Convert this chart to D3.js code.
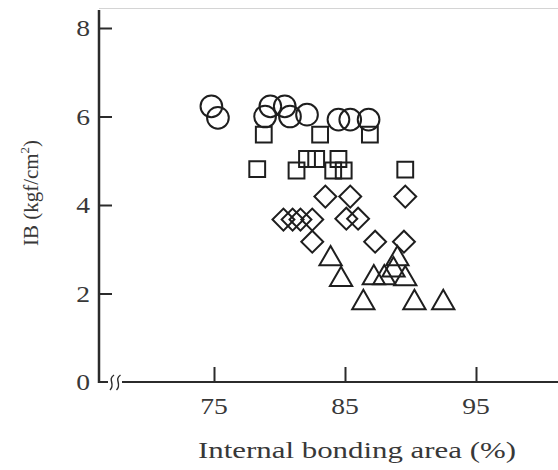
<!DOCTYPE html>
<html>
<head>
<meta charset="utf-8">
<script src="https://cdn.jsdelivr.net/npm/d3@7"></script>
<style>
  body { margin: 0; background: #fff; }
  text { font-family: "Liberation Serif", "DejaVu Serif", serif; fill: #383838; }
</style>
</head>
<body>
<svg width="558" height="470"></svg>
<script>
// IB vs internal bonding area, four groups of boards
var circleX = [74.8, 75.3, 79.3, 80.4, 78.9, 80.8, 82.1, 84.5, 85.4, 86.8];
var circleY = [6.23, 5.97, 6.23, 6.23, 6.0, 6.0, 6.04, 5.93, 5.93, 5.93];

var squareX = [78.8, 83.1, 86.9, 78.3, 81.3, 82.1, 82.8, 84.1, 84.5, 84.9, 89.6];
var squareY = [5.59, 5.59, 5.59, 4.81, 4.78, 5.04, 5.04, 4.78, 5.04, 4.78, 4.80];

var diamondX = [83.5, 85.4, 89.6, 80.3, 81.0, 81.6, 82.5, 82.5, 85.1, 86.0, 87.3, 89.5];
var diamondY = [4.19, 4.19, 4.19, 3.67, 3.67, 3.67, 3.67, 3.17, 3.69, 3.69, 3.17, 3.17];

var triangleX = [83.9, 84.7, 86.4, 87.2, 88.0, 88.7, 89.0, 89.6, 90.3, 92.5];
var triangleY = [2.85, 2.38, 1.86, 2.42, 2.42, 2.60, 2.85, 2.40, 1.86, 1.86];

var xTicks = [75, 85, 95];
var yTicks = [0, 2, 4, 6, 8];

var svg = d3.select("svg");

var x = d3.scaleLinear().domain([75, 95]).range([214, 476]);
var y = d3.scaleLinear().domain([0, 8]).range([382, 28]);

var ink = "#2b2b2b";

// faint frame line at top
svg.append("line")
  .attr("x1", 99).attr("x2", 558).attr("y1", 8.5).attr("y2", 8.5)
  .attr("stroke", "#d4d4d4").attr("stroke-width", 1);

// y axis
var yAxis = svg.append("g").attr("transform", "translate(99,0)")
  .call(d3.axisRight(y).tickValues(yTicks.filter(d => d > 0)).tickSize(13).tickFormat(""));
yAxis.select(".domain").remove();
yAxis.selectAll("line").attr("stroke", ink).attr("stroke-width", 2);
svg.append("line")
  .attr("x1", 99).attr("x2", 99).attr("y1", 10).attr("y2", y(0) + 1)
  .attr("stroke", ink).attr("stroke-width", 2.5);

svg.selectAll(".ylab").data(yTicks).enter().append("text")
  .attr("class", "ylab")
  .attr("transform", d => "translate(90," + (y(d) + 8) + ") scale(1.15,1)")
  .attr("text-anchor", "end")
  .attr("font-size", 24)
  .text(d => d);

// x axis with a break near the origin
svg.append("line")
  .attr("x1", 98).attr("x2", 108).attr("y1", y(0)).attr("y2", y(0))
  .attr("stroke", ink).attr("stroke-width", 2);
svg.append("line")
  .attr("x1", 122).attr("x2", 558).attr("y1", y(0)).attr("y2", y(0))
  .attr("stroke", ink).attr("stroke-width", 2);
[111, 117.5].forEach(function (bx) {
  svg.append("path")
    .attr("d", "M" + (bx + 3) + "," + (y(0) - 7) + " C" + (bx - 4) + "," + (y(0) - 2) + " " + (bx + 5) + "," + (y(0) + 2) + " " + (bx - 1) + "," + (y(0) + 8))
    .attr("fill", "none").attr("stroke", ink).attr("stroke-width", 1.4);
});

var xAxis = svg.append("g").attr("transform", "translate(0," + y(0) + ")")
  .call(d3.axisTop(x).tickValues(xTicks).tickSize(15).tickFormat(""));
xAxis.select(".domain").remove();
xAxis.selectAll("line").attr("stroke", ink).attr("stroke-width", 2);

svg.selectAll(".xlab").data(xTicks).enter().append("text")
  .attr("class", "xlab")
  .attr("transform", d => "translate(" + x(d) + ",414) scale(1.15,1)")
  .attr("text-anchor", "middle")
  .attr("font-size", 24)
  .text(d => d);

// axis titles
svg.append("text")
  .attr("x", 198).attr("y", 458)
  .attr("font-size", 24)
  .attr("textLength", 318)
  .attr("lengthAdjust", "spacingAndGlyphs")
  .text("Internal bonding area (%)");

var yt = svg.append("text")
  .attr("transform", "translate(38,193) rotate(-90)")
  .attr("text-anchor", "middle")
  .attr("font-size", 21);
yt.append("tspan").text("IB (kgf/cm");
yt.append("tspan").attr("font-size", 13).attr("dy", -9).text("2");
yt.append("tspan").attr("dy", 9).text(")");

// markers
function pts(xs, ys) { return xs.map((v, i) => ({ x: v, y: ys[i] })); }

var groups = [
  { data: pts(circleX, circleY), type: d3.symbolCircle, size: 370, rot: 0, dy: 0 },
  { data: pts(squareX, squareY), type: d3.symbolSquare, size: 250, rot: 0, dy: 0 },
  { data: pts(diamondX, diamondY), type: d3.symbolSquare, size: 240, rot: 45, dy: 0 },
  { data: pts(triangleX, triangleY), type: d3.symbolTriangle, size: 215, rot: 0, dy: 3 }
];

groups.forEach(function (g) {
  svg.append("g").selectAll("path").data(g.data).enter().append("path")
    .attr("transform", d => "translate(" + x(d.x) + "," + (y(d.y) + g.dy) + ") rotate(" + g.rot + ")")
    .attr("d", d3.symbol().type(g.type).size(g.size))
    .attr("fill", "none")
    .attr("stroke", "#1e1e1e")
    .attr("stroke-width", 2);
});
</script>
</body>
</html>
